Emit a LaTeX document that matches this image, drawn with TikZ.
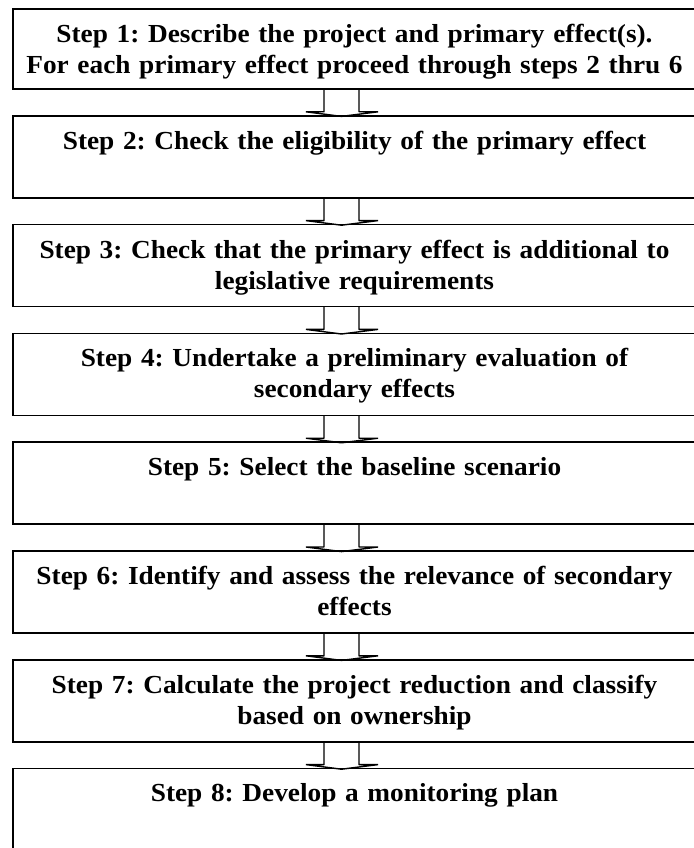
\documentclass[tikz,border=0pt]{standalone}
\usepackage{fontspec}
\setmainfont[FakeStretch=1.05]{Liberation Serif}
\usetikzlibrary{positioning,calc}

% hollow block arrow from the bottom of one step to the top of the next
\newcommand{\fatarrow}[2]{%
  \draw[flow] ($(#1.south)+(-30.5pt,0)$) -- ($(#2.north)+(-30.5pt,4pt)$)
    -- ($(#2.north)+(-48.5pt,4pt)$) -- ($(#2.north)+(-13pt,-0.6pt)$)
    -- ($(#2.north)+(23.5pt,4pt)$) -- ($(#2.north)+(4.5pt,4pt)$)
    -- ($(#1.south)+(4.5pt,0)$);}

\begin{document}
\frenchspacing
\begin{tikzpicture}[
	box/.style={rectangle,draw,line width=1.5pt,outer sep=0pt,minimum width=683pt,minimum height=82pt,inner sep=0pt},
	txt/.style={font=\bfseries\fontsize{26}{31}\selectfont,align=center,text width=675pt,inner sep=0pt,anchor=north},
	flow/.style={line width=1.4pt,line join=bevel}]
\useasboundingbox (0,0) rectangle (693pt,-848pt);
\node[box,minimum height=80pt,anchor=north west](s1) at (13pt,-9pt){};
\node[box](s2)[below=26.8pt of s1]{};
\node[box](s3)[below=26.8pt of s2]{};
\node[box](s4)[below=26.8pt of s3]{};
\node[box](s5)[below=26.8pt of s4]{};
\node[box](s6)[below=26.8pt of s5]{};
\node[box](s7)[below=26.8pt of s6]{};
\node[box](s8)[below=26.8pt of s7]{};
\node[txt](t1)[below=15pt of s1.north]{Step 1: Describe the project and primary effect(s).\\For each primary effect proceed through steps 2 thru 6};
\node[txt](t2)[below=15pt of s2.north]{Step 2: Check the eligibility of the primary effect};
\node[txt](t3)[below=15pt of s3.north]{Step 3: Check that the primary effect is additional to\\legislative requirements};
\node[txt](t4)[below=15pt of s4.north]{Step 4: Undertake a preliminary evaluation of\\secondary effects};
\node[txt](t5)[below=15pt of s5.north]{Step 5: Select the baseline scenario};
\node[txt](t6)[below=15pt of s6.north]{Step 6: Identify and assess the relevance of secondary\\effects};
\node[txt](t7)[below=15pt of s7.north]{Step 7: Calculate the project reduction and classify\\based on ownership};
\node[txt](t8)[below=15pt of s8.north]{Step 8: Develop a monitoring plan};
\fatarrow{s1}{s2}
\fatarrow{s2}{s3}
\fatarrow{s3}{s4}
\fatarrow{s4}{s5}
\fatarrow{s5}{s6}
\fatarrow{s6}{s7}
\fatarrow{s7}{s8}
\end{tikzpicture}
\end{document}
